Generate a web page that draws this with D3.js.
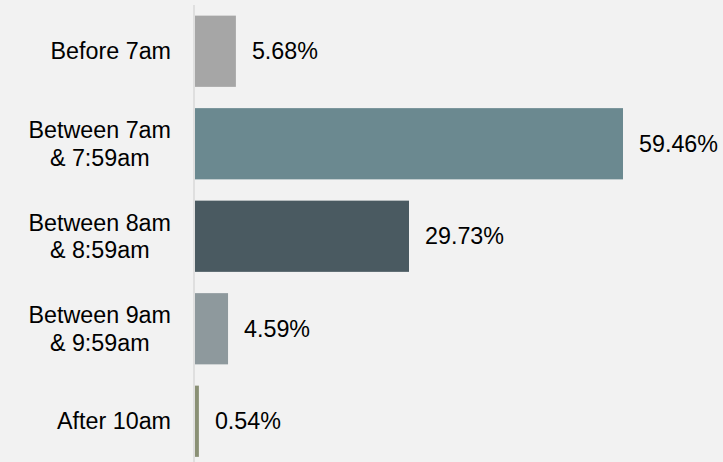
<!DOCTYPE html>
<html>
<head>
<meta charset="utf-8">
<script src="https://cdn.jsdelivr.net/npm/d3@7"></script>
<style>
  html, body { margin: 0; padding: 0; background: #f2f2f2; }
  svg { display: block; font-family: "Liberation Sans", Arial, sans-serif; }
  .cat, .val { fill: #000; font-size: 23.3px; }
</style>
</head>
<body>
<svg id="chart" width="723" height="462"></svg>
<script>
// categories (each entry is the lines of the label)
const categories = [
  ["Before 7am"],
  ["Between 7am", "& 7:59am"],
  ["Between 8am", "& 8:59am"],
  ["Between 9am", "& 9:59am"],
  ["After 10am"]
]
const values = [5.68, 59.46, 29.73, 4.59, 0.54]
const barColors = ["#a6a6a6", "#6b8990", "#4a5a61", "#8e999d", "#8a9075"]

const width = 723, height = 462
const x0 = 195

let svg = d3.select("#chart")

let xScale = d3.scaleLinear()
  .domain([0, 59.46])
  .range([x0, 623])

let yScale = d3.scaleBand()
  .domain(d3.range(categories.length))
  .range([5, 467.5])
  .paddingInner(0.23)
  .paddingOuter(0.115)

// vertical axis line
svg.append("line")
  .attr("x1", 194).attr("x2", 194)
  .attr("y1", 5).attr("y2", height)
  .attr("stroke", "#d9d9d9")
  .attr("stroke-width", 1.5)

let g = svg.append("g")

values.forEach((v, i) => {
  g.append("rect")
    .attr("x", xScale(0))
    .attr("y", yScale(i))
    .attr("width", xScale(v) - xScale(0))
    .attr("height", yScale.bandwidth())
    .attr("fill", barColors[i])

  g.append("text")
    .attr("class", "val")
    .attr("x", xScale(v) + 16)
    .attr("y", yScale(i) + yScale.bandwidth() / 2)
    .attr("dy", "0.35em")
    .text(v.toFixed(2) + "%")
})

// category labels: block right-aligned, lines centred within it
const labelRight = 171
const lineH = 27.7

categories.forEach((lines, i) => {
  let t = svg.append("text")
    .attr("class", "cat")
    .attr("text-anchor", "middle")

  let cy = yScale(i) + yScale.bandwidth() / 2
  let top = cy - (lines.length - 1) * lineH / 2

  let spans = lines.map((l, j) => t.append("tspan")
    .attr("y", top + j * lineH)
    .attr("dy", "0.35em")
    .text(l))

  let maxW = d3.max(spans, s => s.node().getComputedTextLength())
  spans.forEach(s => s.attr("x", labelRight - maxW / 2))
})
</script>
</body>
</html>
